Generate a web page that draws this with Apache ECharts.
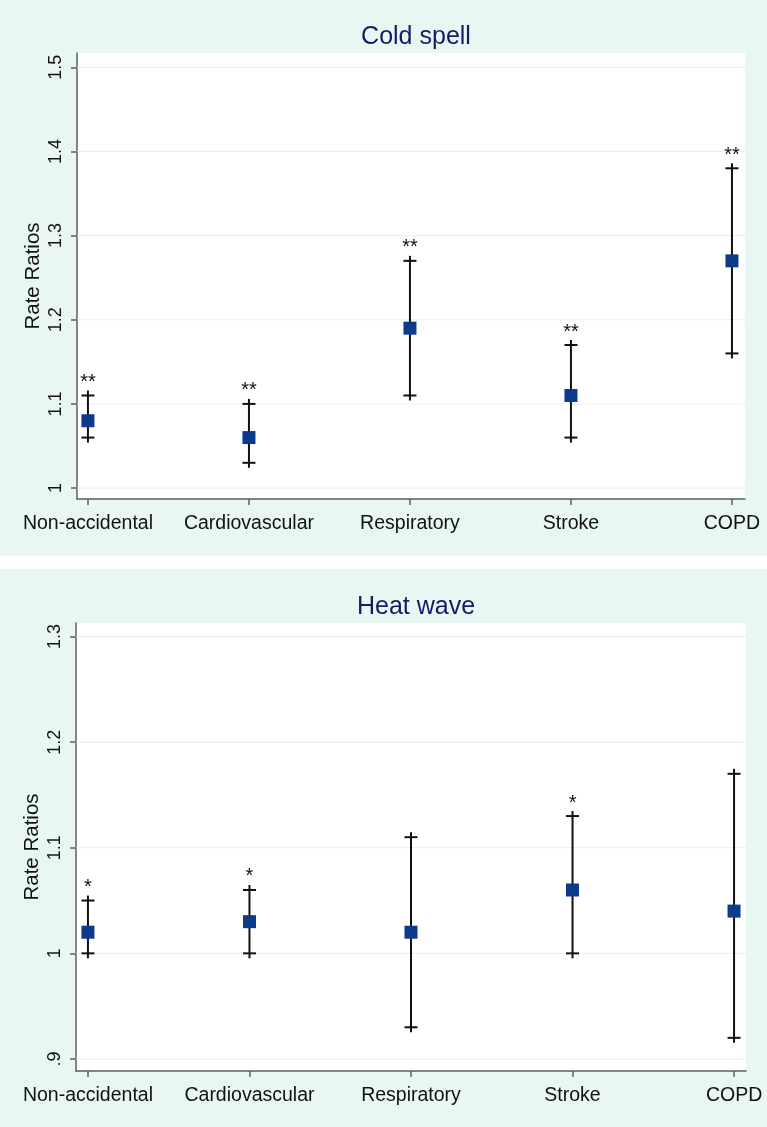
<!DOCTYPE html>
<html><head><meta charset="utf-8">
<script src="https://cdn.jsdelivr.net/npm/echarts@6/dist/echarts.min.js"></script>
<style>html,body{margin:0;padding:0;background:#fff}#c{width:767px;height:1127px}</style>
</head><body><div id="c"></div>
<script>
const categories = ['Non-accidental','Cardiovascular','Respiratory','Stroke','COPD'];
const coldRR    = [1.08, 1.06, 1.19, 1.11, 1.27];
const coldLow   = [1.06, 1.03, 1.11, 1.06, 1.16];
const coldHigh  = [1.11, 1.10, 1.27, 1.17, 1.38];
const coldStars = ['**','**','**','**','**'];
const heatRR    = [1.02, 1.03, 1.02, 1.06, 1.04];
const heatLow   = [1.00, 1.00, 0.93, 1.00, 0.92];
const heatHigh  = [1.05, 1.06, 1.11, 1.13, 1.17];
const heatStars = ['*','*','','*',''];
const coldTicks = [1.0, 1.1, 1.2, 1.3, 1.4, 1.5];
const coldTickLabels = ['1','1.1','1.2','1.3','1.4','1.5'];
const heatTicks = [0.9, 1.0, 1.1, 1.2, 1.3];
const heatTickLabels = ['.9','1','1.1','1.2','1.3'];
const titles = ['Cold spell','Heat wave'];
const yName = 'Rate Ratios';

const FONT = '"Liberation Sans", Arial, sans-serif';
const MINT = '#e9f7f3';
const AXIS = '#5a6260';
const NAVY = '#0e3a8c';

const chart = echarts.init(document.getElementById('c'), null, {renderer:'canvas'});

function labelFor(ticks, labels){
  return function(v){
    for (let i=0;i<ticks.length;i++) if (Math.abs(ticks[i]-v)<1e-6) return labels[i];
    return '';
  };
}

function makeErr(stars){
  return function(params, api){
    const x = api.value(0), lo = api.value(1), hi = api.value(2);
    const pLo = api.coord([x, lo]), pHi = api.coord([x, hi]);
    const hw = 6.5, ext = 5;
    const st = {stroke:'#111', lineWidth:2};
    const children = [
      {type:'line', shape:{x1:pLo[0],y1:pLo[1]+ext,x2:pHi[0],y2:pHi[1]-ext}, style:st},
      {type:'line', shape:{x1:pLo[0]-hw,y1:pLo[1],x2:pLo[0]+hw,y2:pLo[1]}, style:st},
      {type:'line', shape:{x1:pHi[0]-hw,y1:pHi[1],x2:pHi[0]+hw,y2:pHi[1]}, style:st}
    ];
    const s = stars[params.dataIndex];
    if (s) children.push({type:'text', x:pHi[0], y:pHi[1]-13, style:{text:s, fill:'#111', font:'20px '+FONT, align:'center', verticalAlign:'middle'}});
    return {type:'group', children};
  };
}

function renderGridLine(params, api){
  const p = api.coord([api.value(0), api.value(1)]);
  const cs = params.coordSys;
  return {type:'line', shape:{x1:cs.x, y1:p[1], x2:cs.x+cs.width, y2:p[1]},
          style:{stroke:'#e1f2ec', lineWidth:1}};
}

const grids = [
  {left:77, top:53, right:22, height:446, show:true, backgroundColor:'#fff', borderWidth:0},
  {left:76, top:623, right:21, height:448, show:true, backgroundColor:'#fff', borderWidth:0}
];
const xRanges = [[-0.068, 4.081], [-0.074, 4.074]];
const yRanges = [[0.987, 1.517], [0.8886, 1.3128]];
const tickSets = [[coldTicks, coldTickLabels], [heatTicks, heatTickLabels]];
const datasets = [[coldRR, coldLow, coldHigh, coldStars], [heatRR, heatLow, heatHigh, heatStars]];

const xAxis = [], yAxis = [], series = [], title = [];
for (let g=0; g<2; g++){
  xAxis.push({
    type:'value', gridIndex:g, min:xRanges[g][0], max:xRanges[g][1],
    axisLine:{show:true, onZero:false, lineStyle:{color:AXIS, width:1.5}},
    axisTick:{show:true, length:6, lineStyle:{color:AXIS, width:1.5}, customValues:[0,1,2,3,4]},
    axisLabel:{customValues:[0,1,2,3,4], formatter:v=>categories[Math.round(v)] || '', color:'#111', fontSize:19.5, fontFamily:FONT, margin:15},
    splitLine:{show:false}
  });
  yAxis.push({
    type:'value', gridIndex:g, min:yRanges[g][0], max:yRanges[g][1],
    name:yName, nameLocation:'middle', nameRotate:90, nameGap:33, nameMoveOverlap:false,
    nameTextStyle:{color:'#111', fontSize:20.5, fontFamily:FONT},
    axisLine:{show:true, onZero:false, lineStyle:{color:AXIS, width:1.5}},
    axisTick:{show:true, length:6, lineStyle:{color:AXIS, width:1.5}, customValues:tickSets[g][0]},
    axisLabel:{customValues:tickSets[g][0], formatter:labelFor(tickSets[g][0], tickSets[g][1]), rotate:90, color:'#111', fontSize:18, fontFamily:FONT, margin:12},
    splitLine:{show:false}
  });
  const [rr, lo, hi, stars] = datasets[g];
  series.push({
    type:'custom', xAxisIndex:g, yAxisIndex:g, z:1, silent:true,
    renderItem: renderGridLine,
    data: tickSets[g][0].map(v=>[0, v])
  });
  series.push({
    type:'custom', xAxisIndex:g, yAxisIndex:g, z:3,
    renderItem: makeErr(stars),
    data: categories.map((c,i)=>[i, lo[i], hi[i]])
  });
  series.push({
    type:'scatter', xAxisIndex:g, yAxisIndex:g, z:4,
    symbol:'rect', symbolSize:13, itemStyle:{color:NAVY, opacity:1},
    data: categories.map((c,i)=>[i, rr[i]])
  });
  title.push({
    text:titles[g], left:411, top: g===0 ? 20 : 590, textAlign:'center',
    textStyle:{color:'#1a1a64', fontSize:25, fontWeight:'normal', fontFamily:FONT}
  });
}

chart.setOption({
  animation:false,
  backgroundColor:'#fff',
  graphic:[
    {type:'rect', shape:{x:0, y:0, width:767, height:556}, style:{fill:MINT}, z:-10, silent:true},
    {type:'rect', shape:{x:0, y:569, width:767, height:558}, style:{fill:MINT}, z:-10, silent:true}
  ],
  title, grid:grids, xAxis, yAxis, series
});
</script></body></html>
